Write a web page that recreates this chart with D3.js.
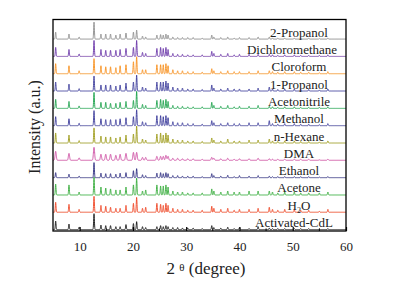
<!DOCTYPE html>
<html>
<head>
<meta charset="utf-8">
<script src="https://cdn.jsdelivr.net/npm/d3@7"></script>
<style>
  body { margin: 0; background: #fff; }
  svg { display: block; }
</style>
</head>
<body>
<div id="chart"></div>
<script>
// peak positions (2θ, degree) shared by all patterns
const peakPos = [5.5, 8.0, 9.9, 12.7, 14.0, 14.9, 15.8, 16.8, 17.6, 18.7,
  20.1, 20.7, 21.8, 22.4, 24.5, 25.2, 25.7, 26.2, 26.6, 27.5,
  28.4, 29.3, 30.3, 31.3, 33.0, 34.8, 35.2, 36.5, 37.8, 39.0,
  40.0, 41.8, 43.5, 45.6, 46.2, 47.2, 48.5, 50.3, 51.5, 53.0,
  55.0, 56.6];

// bottom to top
const names = ["Activated-CdL", "H2O", "Acetone", "Ethanol", "DMA", "n-Hexane",
  "Methanol", "Acetonitrile", "1-Propanol", "Cloroform", "Dichloromethane", "2-Propanol"];
const colors = ["#111111", "#ee4422", "#36ab3a", "#2c2c80", "#cc4aa0", "#9c9a16",
  "#3a3a9a", "#1aa04a", "#3a3a9a", "#f7901e", "#6a35a8", "#8c8c8c"];
const peakWidth = [0.07, 0.07, 0.07, 0.07, 0.11, 0.07, 0.07, 0.07, 0.07, 0.07, 0.07, 0.07];

const hActivated = [49,32,14,92,26,23,23,17,17,29,35,46,17,12,17,23,17,23,17,12,12,9,9,9,6,23,12,9,14,6,12,6,17,9,6,6,6,6,6,6,3,6];
const hH2O = [58,46,17,92,40,35,29,23,23,40,52,86,23,29,52,46,40,52,40,23,17,17,12,12,12,35,23,17,23,12,17,17,23,29,17,12,17,17,12,12,6,17];
const hAcetone = [63,58,17,104,46,40,35,29,29,46,58,98,23,29,58,52,52,58,46,23,17,17,12,12,12,35,23,17,23,17,17,23,23,23,17,12,17,17,12,12,12,17];
const hEthanol = [29,20,9,87,26,23,23,20,26,29,40,52,17,12,26,29,23,29,23,12,12,9,9,9,6,23,12,9,14,6,12,9,12,9,6,6,6,6,6,6,3,6];
const hDMA = [52,40,14,75,35,35,35,29,35,40,46,46,17,17,23,23,23,29,23,12,12,9,9,9,6,17,12,9,12,6,9,9,12,9,6,6,6,6,6,6,3,6];
const hHexane = [58,46,14,87,40,35,35,29,35,46,52,98,23,17,52,58,46,58,46,23,17,17,12,12,9,29,17,12,23,12,12,17,17,23,12,9,12,12,9,9,6,12];
const hMethanol = [52,40,14,87,40,35,35,35,40,46,52,92,23,17,58,58,52,58,46,23,17,17,12,12,9,29,17,12,17,12,12,17,17,29,12,9,12,12,9,9,6,12];
const hAcetonitrile = [52,40,14,92,35,35,29,29,35,40,46,98,23,17,46,52,46,52,40,17,12,12,9,9,9,35,17,12,17,9,12,12,17,12,9,6,9,9,6,6,6,9];
const hPropanol1 = [52,40,14,87,35,35,35,29,35,46,52,92,23,17,52,52,52,58,46,23,17,17,12,12,9,35,17,12,17,12,12,12,17,23,12,9,12,12,9,9,6,12];
const hCloroform = [58,46,17,87,46,40,40,35,46,52,69,98,23,23,52,52,52,58,46,23,17,17,12,12,9,29,17,12,17,12,12,12,17,17,12,9,12,12,9,9,6,12];
const hDichloro = [52,40,14,92,40,35,35,35,40,46,52,92,23,17,46,52,46,52,40,17,12,12,9,9,9,29,17,12,17,9,12,12,12,12,9,6,9,9,6,6,6,9];
const hPropanol2 = [40,29,12,98,29,29,29,23,29,35,40,52,17,12,23,26,23,29,23,12,9,9,9,9,6,23,12,9,12,6,9,9,12,12,6,6,6,6,6,6,3,6];

const heights = [hActivated, hH2O, hAcetone, hEthanol, hDMA, hHexane,
  hMethanol, hAcetonitrile, hPropanol1, hCloroform, hDichloro, hPropanol2];
const offsetStep = 100;
const xTicks = [10, 20, 30, 40, 50, 60];

const W = 396, H = 282;
const plotL = 53, plotR = 346, plotT = 19.5, plotB = 231;
const SERIF = '"Liberation Serif"';

const svg = d3.select("#chart").append("svg")
  .attr("width", W).attr("height", H);

const x = d3.scaleLinear().domain([5, 60]).range([plotL, plotR]);
const y = d3.scaleLinear().domain([-8, 1213]).range([plotB, plotT]);

// build a pattern from its peak list
function pattern(h, w) {
  const pts = [];
  for (let t = 5; t <= 60.001; t += 0.02) {
    let v = 0;
    peakPos.forEach((p, i) => {
      const d = (t - p) / w;
      v += h[i] * Math.exp(-0.5 * d * d);
    });
    pts.push([t, v]);
  }
  return pts;
}

const line = d3.line().x(d => x(d[0])).y(d => y(d[1]));

const g = svg.append("g");
heights.forEach((h, i) => {
  const off = i * offsetStep;
  const pts = pattern(h, peakWidth[i]).map(d => [d[0], d[1] + off]);
  g.append("path")
    .attr("d", line(pts))
    .attr("fill", "none")
    .attr("stroke", colors[i])
    .attr("stroke-width", 0.9);
});

// series labels
heights.forEach((h, i) => {
  const t = g.append("text")
    .attr("x", names[i] === "Dichloromethane" ? 292 : (names[i] === "Activated-CdL" ? 294 : 299))
    .attr("y", y(i * offsetStep) - 2.5)
    .attr("text-anchor", "middle")
    .style("font-family", SERIF)
    .style("font-size", "13px")
    .style("fill", "#222");
  if (names[i] === "H2O") {
    t.append("tspan").text("H");
    t.append("tspan").attr("dy", 3).style("font-size", "8px").text("2");
    t.append("tspan").attr("dy", -3).text("O");
  } else {
    t.text(names[i]);
  }
});

// frame
svg.append("rect")
  .attr("x", plotL).attr("y", plotT)
  .attr("width", plotR - plotL).attr("height", plotB - plotT)
  .attr("fill", "none").attr("stroke", "#000").attr("stroke-width", 1.3);

// bottom axis, ticks inward
const ax = svg.append("g")
  .attr("transform", `translate(0,${plotB})`)
  .call(d3.axisBottom(x).tickValues(xTicks).tickSizeInner(-4).tickSizeOuter(0).tickPadding(11));
ax.select(".domain").remove();
ax.selectAll(".tick line").attr("stroke-width", 1.2);
ax.selectAll(".tick text")
  .style("font-family", SERIF)
  .style("font-size", "13px")
  .attr("fill", "#222");
svg.append("g")
  .attr("transform", `translate(0,${plotB})`)
  .selectAll("line")
  .data([15, 25, 35, 45, 55])
  .join("line")
  .attr("x1", d => x(d)).attr("x2", d => x(d))
  .attr("y1", 0).attr("y2", -2.5)
  .attr("stroke", "#000").attr("stroke-width", 1);

// axis titles
const xt = svg.append("text")
  .attr("x", 206).attr("y", 274)
  .attr("text-anchor", "middle")
  .style("font-family", SERIF)
  .style("font-size", "17px")
  .style("fill", "#222");
xt.append("tspan").text("2 ");
xt.append("tspan").attr("dy", -3).style("font-size", "11px").text("θ");
xt.append("tspan").attr("dy", 3).text(" (degree)");

svg.append("text")
  .attr("transform", "translate(40,127) rotate(-90)")
  .attr("text-anchor", "middle")
  .style("font-family", SERIF)
  .style("font-size", "16px")
  .style("fill", "#222")
  .text("Intensity (a.u.)");
</script>
</body>
</html>
